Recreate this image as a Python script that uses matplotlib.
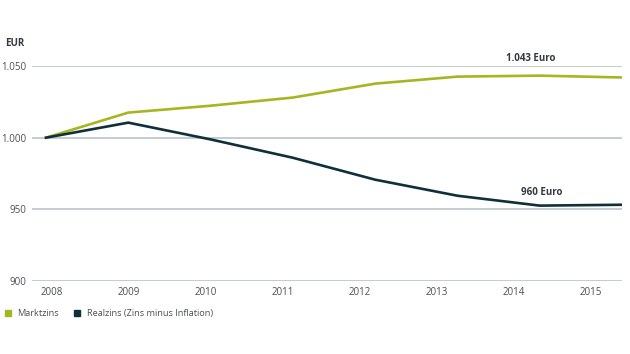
import numpy as np
import matplotlib.pyplot as plt
from matplotlib.lines import Line2D

plt.rcParams['font.family'] = ['Open Sans', 'DejaVu Sans']

# ---------------- data ----------------
years = ["2008", "2009", "2010", "2011", "2012", "2013", "2014", "2015"]
markt = [1000, 1017.5, 1022.3, 1028.0, 1037.7, 1042.6, 1043.3, 1042.0]
real = [1000, 1010.5, 998.8, 986.0, 970.7, 959.5, 952.6, 953.2]
y_ticks = [900, 950, 1000, 1050]
series_names = ["Marktzins", "Realzins (Zins minus Inflation)"]

GREEN = "#a8b522"
DARK = "#0f2f3b"
GRID = "#b9c3c7"
TXT = "#4a4f55"

fig = plt.figure(figsize=(6.3, 3.54), dpi=100)
ax = fig.add_axes([0.0508, 0.2062, 0.9365, 0.6073])

x = np.arange(len(markt))
for v in y_ticks:
    ax.axhline(v, color=GRID, lw=1.2, zorder=1)

ax.plot(x, markt, color=GREEN, lw=1.9, zorder=3, solid_joinstyle="miter")
ax.plot(x, real, color=DARK, lw=1.9, zorder=3, solid_joinstyle="miter")

ax.set_xlim(-0.17, 7)
ax.set_ylim(900, 1050)

# labels are spread a bit tighter than the data points in the original
ax.set_xticks(np.linspace(0.07, 6.62, len(years)))
ax.set_xticklabels(years)
ax.set_yticks(y_ticks)
ax.set_yticklabels([f"{v:,}".replace(",", ".") for v in y_ticks])
ax.tick_params(length=0, labelsize=7, colors=TXT, pad=4)
for s in ax.spines.values():
    s.set_visible(False)

ax.text(5.89, 1055.1, "1.043 Euro", fontsize=7, fontweight="bold",
        color="#333a40", ha="center", va="center")
ax.text(6.03, 961.6, "960 Euro", fontsize=7, fontweight="bold",
        color="#333a40", ha="center", va="center")

fig.text(0.008, 0.878, "EUR", fontsize=7, fontweight="bold", color="#333a40",
         ha="left", va="center")

handles = [Line2D([], [], marker="s", ls="", color=c, markersize=5)
           for c in (GREEN, DARK)]
fig.legend(handles, series_names, loc="center left", bbox_to_anchor=(-0.008, 0.113),
           ncol=2, frameon=False, fontsize=6.6, handletextpad=0.55,
           columnspacing=1.5, labelcolor=TXT, handlelength=1.0)

fig.savefig("out.png", dpi=100)
